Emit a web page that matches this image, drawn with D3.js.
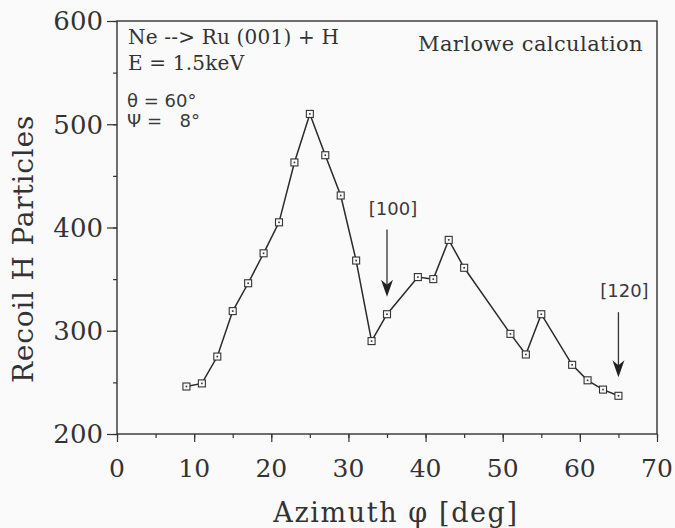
<!DOCTYPE html>
<html>
<head>
<meta charset="utf-8">
<script src="https://cdn.jsdelivr.net/npm/d3@7/dist/d3.min.js"></script>
<style>
  html, body { margin: 0; padding: 0; background: #fafafa; }
  svg { display: block; }
  .serif { font-family: "DejaVu Serif", serif; fill: #333; }
  .sans { font-family: "DejaVu Sans", sans-serif; fill: #3a3a3a; }
</style>
</head>
<body>
<svg id="chart" width="675" height="528"></svg>
<script>
// Azimuthal scan: recoiled H particles vs. azimuth angle
const azimuth = [9, 11, 13, 15, 17, 19, 21, 23, 25, 27, 29, 31, 33, 35, 39, 41, 43, 45, 51, 53, 55, 59, 61, 63, 65];
const recoils = [246, 249, 275, 319, 346, 375, 405, 463, 510, 470, 431, 368, 290, 316, 352, 350, 388, 361, 297, 277, 316, 267, 252, 243, 237];

const xTicks = [0, 10, 20, 30, 40, 50, 60, 70];
const yTicks = [200, 300, 400, 500, 600];

// Crystal direction markers: azimuth, arrow top and tip (in particle counts)
const dirLabels = ["[100]", "[120]"];
const dirAzimuth = [35, 65];
const dirTop = [398, 318];
const dirTip = [333, 255];

const infoSerif = ["Ne --> Ru (001) + H", "E = 1.5keV"];

const svg = d3.select("#chart");
const mLeft = 117, mRight = 657, mTop = 21, mBottom = 434;

const x = d3.scaleLinear().domain([0, 70]).range([mLeft, mRight]);
const y = d3.scaleLinear().domain([200, 600]).range([mBottom, mTop]);

const ink = "#333";

// frame
svg.append("rect")
  .attr("x", mLeft).attr("y", mTop)
  .attr("width", mRight - mLeft).attr("height", mBottom - mTop)
  .attr("fill", "none").attr("stroke", ink).attr("stroke-width", 1.4);

// x axis ticks (major + minor, pointing outward)
const gx = svg.append("g").attr("transform", `translate(0,${mBottom})`);
gx.call(d3.axisBottom(x).tickValues(d3.range(0, 71, 5)).tickSize(4).tickFormat(""))
  .call(g => g.select(".domain").remove())
  .call(g => g.selectAll("line").attr("stroke", ink).attr("stroke-width", 1.2));
gx.append("g").call(d3.axisBottom(x).tickValues(xTicks).tickSize(8).tickFormat(""))
  .call(g => g.select(".domain").remove())
  .call(g => g.selectAll("line").attr("stroke", ink).attr("stroke-width", 1.2));
svg.append("g").selectAll("text").data(xTicks).join("text")
  .attr("class", "serif")
  .attr("x", d => x(d)).attr("y", 477)
  .attr("text-anchor", "middle")
  .attr("font-size", 25)
  .text(d => d);

// y axis ticks
const gy = svg.append("g").attr("transform", `translate(${mLeft},0)`);
gy.call(d3.axisLeft(y).tickValues(d3.range(200, 601, 50)).tickSize(4).tickFormat(""))
  .call(g => g.select(".domain").remove())
  .call(g => g.selectAll("line").attr("stroke", ink).attr("stroke-width", 1.2));
gy.append("g").call(d3.axisLeft(y).tickValues(yTicks).tickSize(10).tickFormat(""))
  .call(g => g.select(".domain").remove())
  .call(g => g.selectAll("line").attr("stroke", ink).attr("stroke-width", 1.2));
svg.append("g").selectAll("text").data(yTicks).join("text")
  .attr("class", "serif")
  .attr("x", 103).attr("y", d => y(d))
  .attr("dy", "0.36em")
  .attr("text-anchor", "end")
  .attr("font-size", 26)
  .text(d => d);

// axis titles
svg.append("text").attr("class", "serif")
  .attr("x", 396).attr("y", 522)
  .attr("text-anchor", "middle").attr("font-size", 27)
  .attr("letter-spacing", 1.6)
  .text("Azimuth φ [deg]");
svg.append("text").attr("class", "serif")
  .attr("transform", "translate(33,249) rotate(-90)")
  .attr("text-anchor", "middle").attr("font-size", 28)
  .attr("letter-spacing", 0.8)
  .text("Recoil H Particles");

// data line
const pts = azimuth.map((a, i) => [a, recoils[i]]);
svg.append("path")
  .datum(pts)
  .attr("fill", "none").attr("stroke", "#2a2a2a").attr("stroke-width", 1.5)
  .attr("d", d3.line().x(d => x(d[0])).y(d => y(d[1])));

// square markers with center dot
const mk = svg.append("g").selectAll("g").data(pts).join("g")
  .attr("transform", d => `translate(${x(d[0])},${y(d[1])})`);
mk.append("rect").attr("x", -3.5).attr("y", -3.5).attr("width", 7).attr("height", 7)
  .attr("fill", "#fafafa").attr("stroke", ink).attr("stroke-width", 1.1);
mk.append("rect").attr("x", -0.8).attr("y", -0.8).attr("width", 1.6).attr("height", 1.6)
  .attr("fill", ink);

// direction arrows
dirLabels.forEach((lab, i) => {
  const ax = x(dirAzimuth[i]);
  const y0 = y(dirTop[i]), y1 = y(dirTip[i]);
  svg.append("line").attr("x1", ax).attr("x2", ax).attr("y1", y0).attr("y2", y1 - 10)
    .attr("stroke", ink).attr("stroke-width", 1.3);
  svg.append("path")
    .attr("d", `M${ax - 6},${y1 - 17} L${ax},${y1 - 12} L${ax + 6},${y1 - 17} L${ax},${y1} Z`)
    .attr("fill", "#222");
  svg.append("text").attr("class", "sans")
    .attr("x", ax + 6).attr("y", y0 - 15)
    .attr("text-anchor", "middle").attr("font-size", 18)
    .text(lab);
});

// run parameters
svg.append("g").selectAll("text").data(infoSerif).join("text")
  .attr("class", "serif")
  .attr("x", 128).attr("y", (d, i) => 44 + i * 26)
  .attr("font-size", 20)
  .attr("letter-spacing", 0.2)
  .text(d => d);
svg.append("text").attr("class", "sans").attr("x", 127).attr("y", 107)
  .attr("font-size", 18).text("θ = 60°");
svg.append("text").attr("class", "sans").attr("x", 127).attr("y", 127)
  .attr("font-size", 18).text("Ψ =");
svg.append("text").attr("class", "sans").attr("x", 200).attr("y", 127)
  .attr("text-anchor", "end").attr("font-size", 18).text("8°");

svg.append("text").attr("class", "serif")
  .attr("x", 643).attr("y", 51)
  .attr("text-anchor", "end").attr("font-size", 21)
  .attr("letter-spacing", 0.4)
  .text("Marlowe calculation");
</script>
</body>
</html>
